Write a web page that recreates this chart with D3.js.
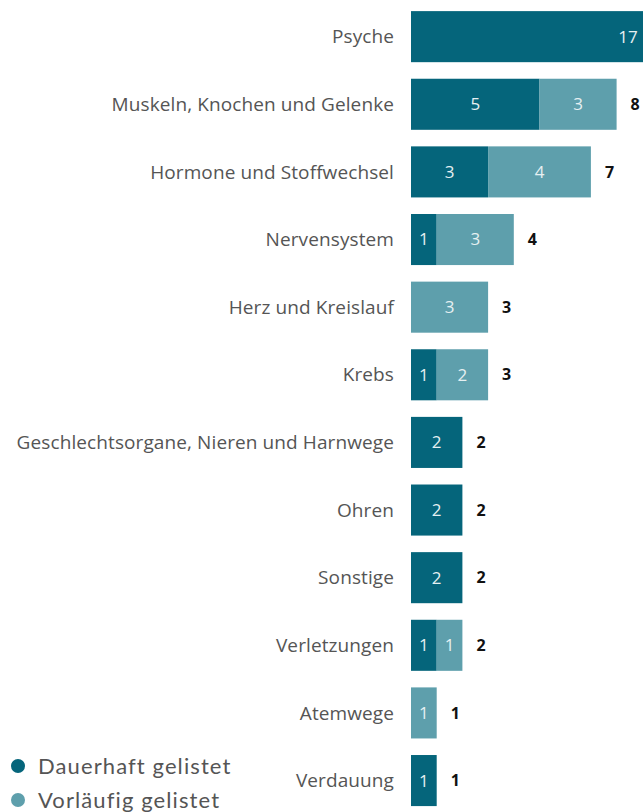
<!DOCTYPE html>
<html>
<head>
<meta charset="utf-8">
<script src="https://cdn.jsdelivr.net/npm/d3@7"></script>
<style>
  body { margin: 0; background: #fff; overflow: hidden; }
  svg { display: block; }
</style>
</head>
<body>
<svg id="chart"></svg>
<script>
const categories = ["Psyche", "Muskeln, Knochen und Gelenke", "Hormone und Stoffwechsel", "Nervensystem",
  "Herz und Kreislauf", "Krebs", "Geschlechtsorgane, Nieren und Harnwege", "Ohren", "Sonstige",
  "Verletzungen", "Atemwege", "Verdauung"];
const dauerhaft = [17, 5, 3, 1, 0, 1, 2, 2, 2, 1, 0, 1];
const vorlaeufig = [0, 3, 4, 3, 3, 2, 0, 0, 0, 1, 1, 0];
const seriesNames = ["Dauerhaft gelistet", "Vorläufig gelistet"];
const seriesColors = ["#05657b", "#5e9fac"];

let width = 643;
let height = 812;
let svg = d3.select("#chart").attr("width", width).attr("height", height);

let x = d3.scaleLinear().domain([0, 17]).range([411, 411 + 17 * 25.7]);
let y = d3.scaleBand().domain(categories).range([3, 3 + 12 * 67.6]).paddingInner(0.245).paddingOuter(0.12);

let rows = categories.map((c, i) => ({ cat: c, vals: [dauerhaft[i], vorlaeufig[i]] }));

let row = svg.selectAll(".row").data(rows).join("g").attr("class", "row");

// category labels
row.append("text")
  .attr("x", 394)
  .attr("y", (d) => y(d.cat) + y.bandwidth() / 2)
  .attr("dy", "0.35em")
  .attr("text-anchor", "end")
  .style("font-family", "'Open Sans', sans-serif")
  .style("font-size", "19px")
  .style("letter-spacing", "0.1px")
  .style("fill", "#555")
  .text((d) => d.cat);

// segments
row.each(function (d) {
  let g = d3.select(this);
  let start = 0;
  d.vals.forEach((v, k) => {
    if (v > 0) {
      g.append("rect")
        .attr("x", x(start))
        .attr("y", y(d.cat))
        .attr("width", x(start + v) - x(start))
        .attr("height", y.bandwidth())
        .style("fill", seriesColors[k]);
      g.append("text")
        .attr("x", Math.min((x(start) + x(start + v)) / 2, 628))
        .attr("y", y(d.cat) + y.bandwidth() / 2)
        .attr("dy", "0.35em")
        .attr("text-anchor", "middle")
        .style("font-family", "'Open Sans', sans-serif")
        .style("font-size", "17px")
        .style("fill", "#e6f0f2")
        .text(v);
    }
    start += v;
  });
  // total
  g.append("text")
    .attr("x", x(start) + 14)
    .attr("y", y(d.cat) + y.bandwidth() / 2)
    .attr("dy", "0.35em")
    .style("font-family", "'Open Sans', sans-serif")
    .style("font-size", "16px")
    .style("font-weight", "bold")
    .style("fill", "#111")
    .text(start);
});

// legend
let legend = svg.append("g");
seriesNames.forEach((name, i) => {
  legend.append("circle")
    .attr("cx", 18)
    .attr("cy", 766 + i * 34)
    .attr("r", 7)
    .style("fill", seriesColors[i]);
  legend.append("text")
    .attr("x", 38)
    .attr("y", 766 + i * 34)
    .attr("dy", "0.35em")
    .style("font-family", "Lato, sans-serif")
    .style("font-size", "22px")
    .style("letter-spacing", "1.1px")
    .style("fill", "#555")
    .text(name);
});
</script>
</body>
</html>
